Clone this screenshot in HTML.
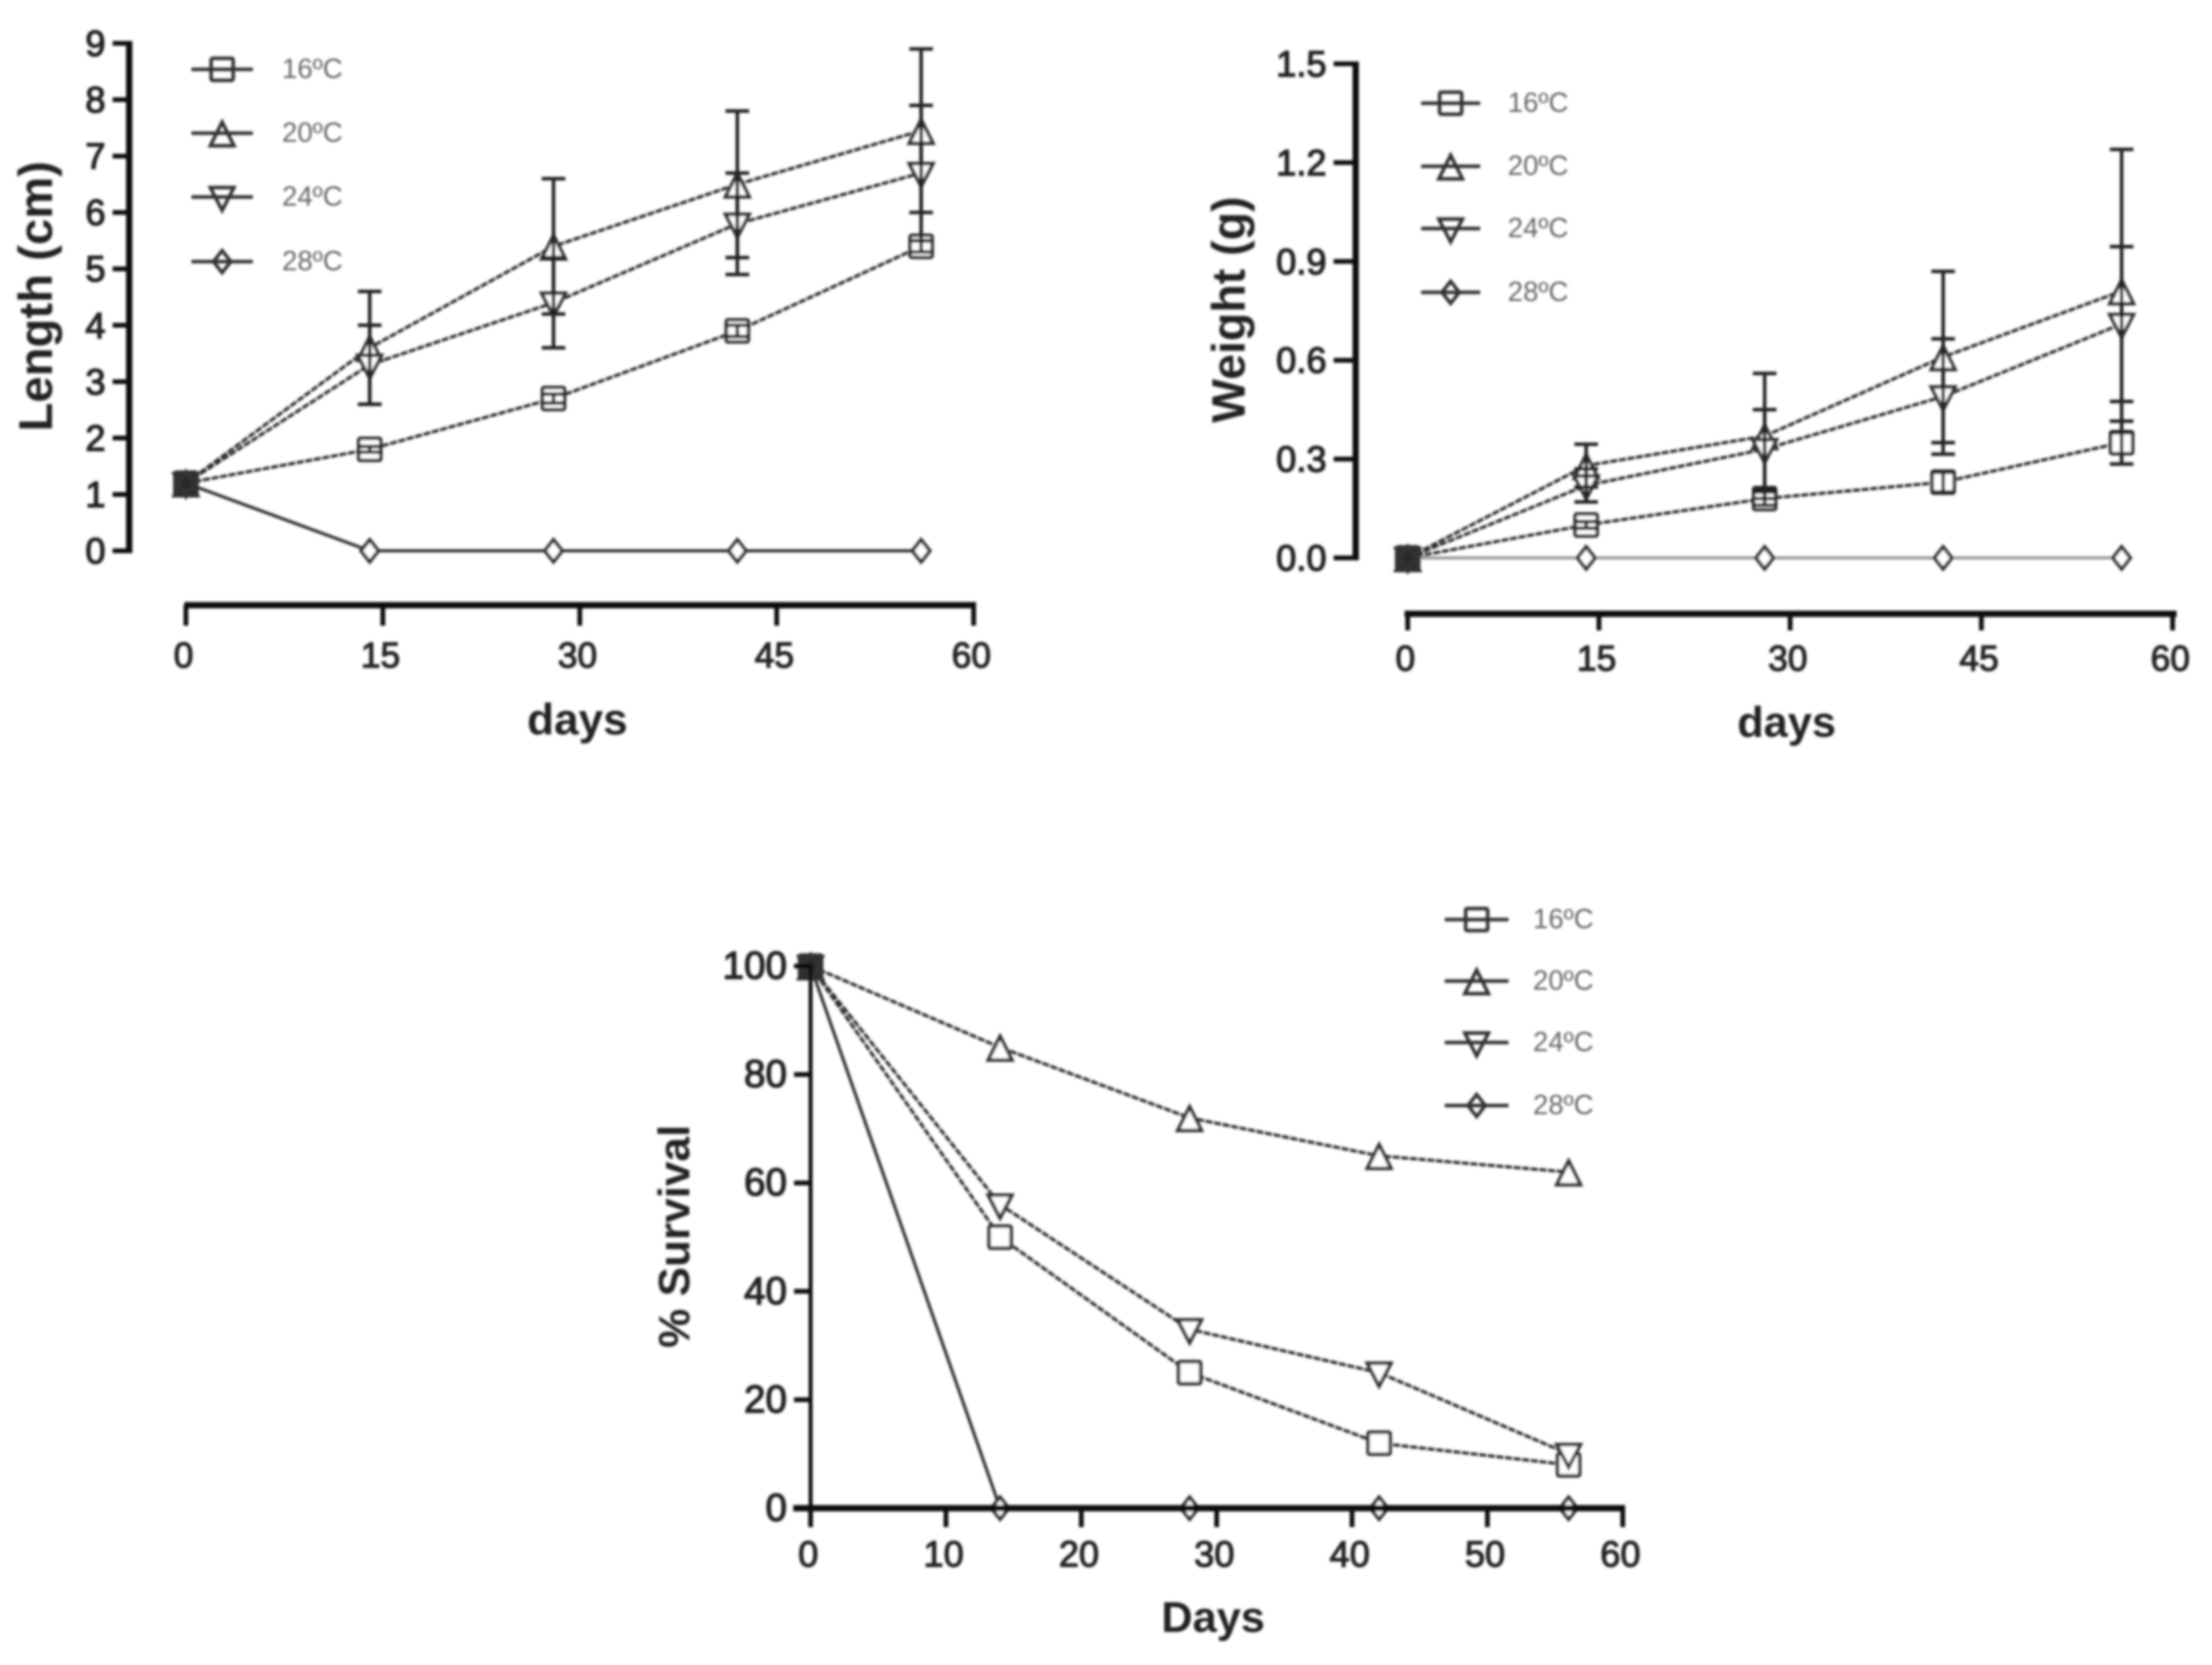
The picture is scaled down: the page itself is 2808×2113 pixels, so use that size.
<!DOCTYPE html>
<html lang="en">
<head>
<meta charset="utf-8">
<title>Length, weight and survival by temperature</title>
<style>
html,body{margin:0;padding:0;background:#fff;}
svg{display:block;}
text{font-family:"Liberation Sans",sans-serif;}
</style>
</head>
<body>
<svg id="figure" xmlns="http://www.w3.org/2000/svg" width="2808" height="2113" viewBox="0 0 2808 2113">
<defs><filter id="soft" x="-5%" y="-5%" width="110%" height="110%"><feGaussianBlur stdDeviation="1.6"/></filter></defs>
<rect width="2808" height="2113" fill="#fff"/>
<g id="root" filter="url(#soft)"></g>
</svg>
<script>
const seriesNames = ['16ºC', '20ºC', '24ºC', '28ºC'];
const days = [0, 14, 28, 42, 56];

const lengthXTicks = [0, 15, 30, 45, 60];
const lengthYTicks = [0, 1, 2, 3, 4, 5, 6, 7, 8, 9];
const length16 = [1.2, 1.8, 2.7, 3.9, 5.4];
const length20 = [1.2, 3.6, 5.4, 6.5, 7.45];
const length24 = [1.2, 3.3, 4.4, 5.8, 6.7];
const length28 = [1.2, 0, 0, 0, 0];
const length16Err = [0, 0.05, 0.08, 0.1, 0.1];
const length20Err = [0, 1.0, 1.2, 1.3, 1.45];
const length24Err = [0, 0.7, 0.8, 0.9, 1.2];
const length28Err = [0, 0, 0, 0, 0];

const weightXTicks = [0, 15, 30, 45, 60];
const weightYTicks = [0, 0.3, 0.6, 0.9, 1.2, 1.5];
const weight16 = [0, 0.1, 0.18, 0.23, 0.35];
const weight20 = [0, 0.28, 0.37, 0.61, 0.81];
const weight24 = [0, 0.22, 0.33, 0.49, 0.71];
const weight28 = [0, 0, 0, 0, 0];
const weight16Err = [0, 0.01, 0.02, 0.03, 0.065];
const weight20Err = [0, 0.065, 0.19, 0.26, 0.43];
const weight24Err = [0, 0.05, 0.12, 0.175, 0.235];
const weight28Err = [0, 0, 0, 0, 0];

const survivalXTicks = [0, 10, 20, 30, 40, 50, 60];
const survivalYTicks = [0, 20, 40, 60, 80, 100];
const survival16 = [100, 50, 25, 12, 8];
const survival20 = [100, 85, 72, 65, 62];
const survival24 = [100, 56, 33, 25, 10];
const survival28 = [100, 0, 0, 0, 0];

const NS = 'http://www.w3.org/2000/svg';
const INK = '#0c0c0c';
const LINE = '#333';
const root = document.getElementById('root');

function make(tag, attrs, parent) {
  const node = document.createElementNS(NS, tag);
  for (const key in attrs) node.setAttribute(key, attrs[key]);
  parent.appendChild(node);
  return node;
}

function markerShape(kind, x, y, parent, fill) {
  const r = 14;
  const style = {fill: fill, stroke: LINE, 'stroke-width': 4.5};
  if (kind === 0) {
    return make('rect', Object.assign({x: x - r, y: y - r, width: 2 * r, height: 2 * r, rx: 2}, style), parent);
  }
  let pts;
  if (kind === 1) pts = [[x, y - r], [x + r + 1, y + r + 2], [x - r - 1, y + r + 2]];
  if (kind === 2) pts = [[x, y + r + 3], [x + r + 1, y - r + 2], [x - r - 1, y - r + 2]];
  if (kind === 3) pts = [[x, y - 14], [x + 11, y], [x, y + 14], [x - 11, y]];
  const d = pts.map(function (p) { return p.join(','); }).join(' ');
  return make('polygon', Object.assign({points: d}, style), parent);
}

function drawChart(c) {
  const chart = make('g', {}, root);
  
  

  const sx = function (v) { return c.x0 + v * (c.x1 - c.x0) / c.xMax; };
  const sy = function (v) { return c.y0 - v * (c.y0 - c.yTop) / c.yMax; };

  /* series lines */
  c.series.forEach(function (values, s) {
    const d = values.map(function (v, i) { return sx(days[i]) + ',' + sy(v); }).join(' ');
    const line = make('polyline', {points: d, fill: 'none', stroke: s === 3 && c.name === 'weight' ? '#9a9a9a' : LINE, 'stroke-width': 4, 'stroke-dasharray': s === 3 ? 'none' : '9 2'}, chart);
    
    
  });

  /* markers */
  c.series.forEach(function (values, s) {
    values.forEach(function (v, i) {
      const mark = markerShape(s, sx(days[i]), sy(v), chart, i === 0 ? '#2a2a2a' : '#fff');
      
      
    });
  });

  /* error bars */
  c.errors.forEach(function (errs, s) {
    errs.forEach(function (e, i) {
      if (e <= 0) return;
      const x = sx(days[i]);
      const v = c.series[s][i];
      const bar = make('g', {stroke: '#222', 'stroke-width': 4.5}, chart);
      
      
      make('line', {x1: x, x2: x, y1: sy(v + e), y2: sy(v - e)}, bar);
      make('line', {x1: x - 15, x2: x + 15, y1: sy(v + e), y2: sy(v + e)}, bar);
      make('line', {x1: x - 15, x2: x + 15, y1: sy(v - e), y2: sy(v - e)}, bar);
    });
  });

  /* y axis */
  const yAxis = make('g', {}, chart);
  
  
  make('line', {x1: c.yAxisX, x2: c.yAxisX, y1: sy(c.yMax) - 3, y2: c.y0 + 3, stroke: INK, 'stroke-width': c.yAxisWidth}, yAxis);
  c.yTicks.forEach(function (t) {
    make('line', {x1: c.yAxisX - c.yTickLen, x2: c.yAxisX, y1: sy(t), y2: sy(t), stroke: INK, 'stroke-width': 6}, yAxis);
    const label = make('text', {x: c.yAxisX - c.yTickLen - 9, y: sy(t) + 16, 'text-anchor': 'end', 'font-size': c.yTickFont, fill: '#222', stroke: '#222', 'stroke-width': 1.6}, yAxis);
    label.textContent = c.yFormat(t);
    
    
  });

  /* x axis */
  const xAxis = make('g', {}, chart);
  
  
  make('line', {x1: c.xAxisStart, x2: c.x1 + c.xAxisExtra, y1: c.xAxisY, y2: c.xAxisY, stroke: INK, 'stroke-width': 8}, xAxis);
  c.xTicks.forEach(function (t) {
    make('line', {x1: sx(t), x2: sx(t), y1: c.xAxisY, y2: c.xTickEnd, stroke: INK, 'stroke-width': 6}, xAxis);
    const label = make('text', {x: sx(t) - 3, y: c.xLabelY, 'text-anchor': 'middle', 'font-size': c.tickFont, fill: '#222', stroke: '#222', 'stroke-width': 1.4}, xAxis);
    label.textContent = String(t);
    
    
  });

  /* titles */
  const xTitle = make('text', {x: c.xTitleX, y: c.xTitleY, 'text-anchor': 'middle', 'font-size': c.titleFont, 'font-weight': 'bold', fill: '#222'}, chart);
  xTitle.textContent = c.xTitle;
  
  

  const yTitle = make('text', {transform: 'translate(' + c.yTitleX + ',' + c.yTitleY + ') rotate(-90)', 'text-anchor': 'middle', 'font-size': c.yTitleFont, 'font-weight': 'bold', fill: '#222'}, chart);
  yTitle.textContent = c.yTitle;
  
  

  /* legend */
  const legend = make('g', {}, chart);
  
  
  seriesNames.forEach(function (name, s) {
    const y = c.legendRows[s];
    const entry = make('g', {}, legend);
    
    
    make('line', {x1: c.legendX0, x2: c.legendX1, y1: y, y2: y, stroke: LINE, 'stroke-width': 4.5}, entry);
    markerShape(s, (c.legendX0 + c.legendX1) / 2, y, entry, 'none');
    const label = make('text', {x: c.legendTextX, y: y + 11, 'font-size': 35, fill: '#666'}, entry);
    label.textContent = name;
  });
}

drawChart({
  name: 'length', series: [length16, length20, length24, length28],
  errors: [length16Err, length20Err, length24Err, length28Err],
  x0: 236, x1: 1236, xMax: 60, y0: 699, yTop: 55, yMax: 9,
  yAxisX: 164, yAxisWidth: 8, yTickLen: 21, xAxisY: 768, xAxisStart: 234, xAxisExtra: 3, xTickEnd: 794,
  xLabelY: 847, tickFont: 45, yTickFont: 46, titleFont: 56, yTitleFont: 60,
  xTicks: lengthXTicks, yTicks: lengthYTicks, yFormat: function (t) { return String(t); },
  xTitle: 'days', xTitleX: 733, xTitleY: 932,
  yTitle: 'Length (cm)', yTitleX: 66, yTitleY: 376,
  legendX0: 243, legendX1: 321, legendRows: [88, 169, 250, 332], legendTextX: 358
});

drawChart({
  name: 'weight', series: [weight16, weight20, weight24, weight28],
  errors: [weight16Err, weight20Err, weight24Err, weight28Err],
  x0: 1787, x1: 2758, xMax: 60, y0: 708, yTop: 81, yMax: 1.5,
  yAxisX: 1721, yAxisWidth: 8, yTickLen: 28, xAxisY: 779, xAxisStart: 1783, xAxisExtra: 5, xTickEnd: 800,
  xLabelY: 851, tickFont: 45, yTickFont: 46, titleFont: 55, yTitleFont: 59,
  xTicks: weightXTicks, yTicks: weightYTicks, yFormat: function (t) { return t.toFixed(1); },
  xTitle: 'days', xTitleX: 2268, xTitleY: 935,
  yTitle: 'Weight (g)', yTitleX: 1580, yTitleY: 393,
  legendX0: 1804, legendX1: 1879, legendRows: [131, 211, 290, 371], legendTextX: 1914
});

drawChart({
  name: 'survival', series: [survival16, survival20, survival24, survival28],
  errors: [],
  x0: 1029, x1: 2060, xMax: 60, y0: 1914, yTop: 1226, yMax: 100,
  yAxisX: 1029, yAxisWidth: 5, yTickLen: 21, xAxisY: 1914, xAxisStart: 1007, xAxisExtra: 3, xTickEnd: 1938,
  xLabelY: 1988, tickFont: 46, yTickFont: 49, titleFont: 55, yTitleFont: 56,
  xTicks: survivalXTicks, yTicks: survivalYTicks, yFormat: function (t) { return String(t); },
  xTitle: 'Days', xTitleX: 1540, xTitleY: 2071,
  yTitle: '% Survival', yTitleX: 875, yTitleY: 1569,
  legendX0: 1834, legendX1: 1915, legendRows: [1167, 1245, 1323, 1403], legendTextX: 1946
});
</script>
</body>
</html>
